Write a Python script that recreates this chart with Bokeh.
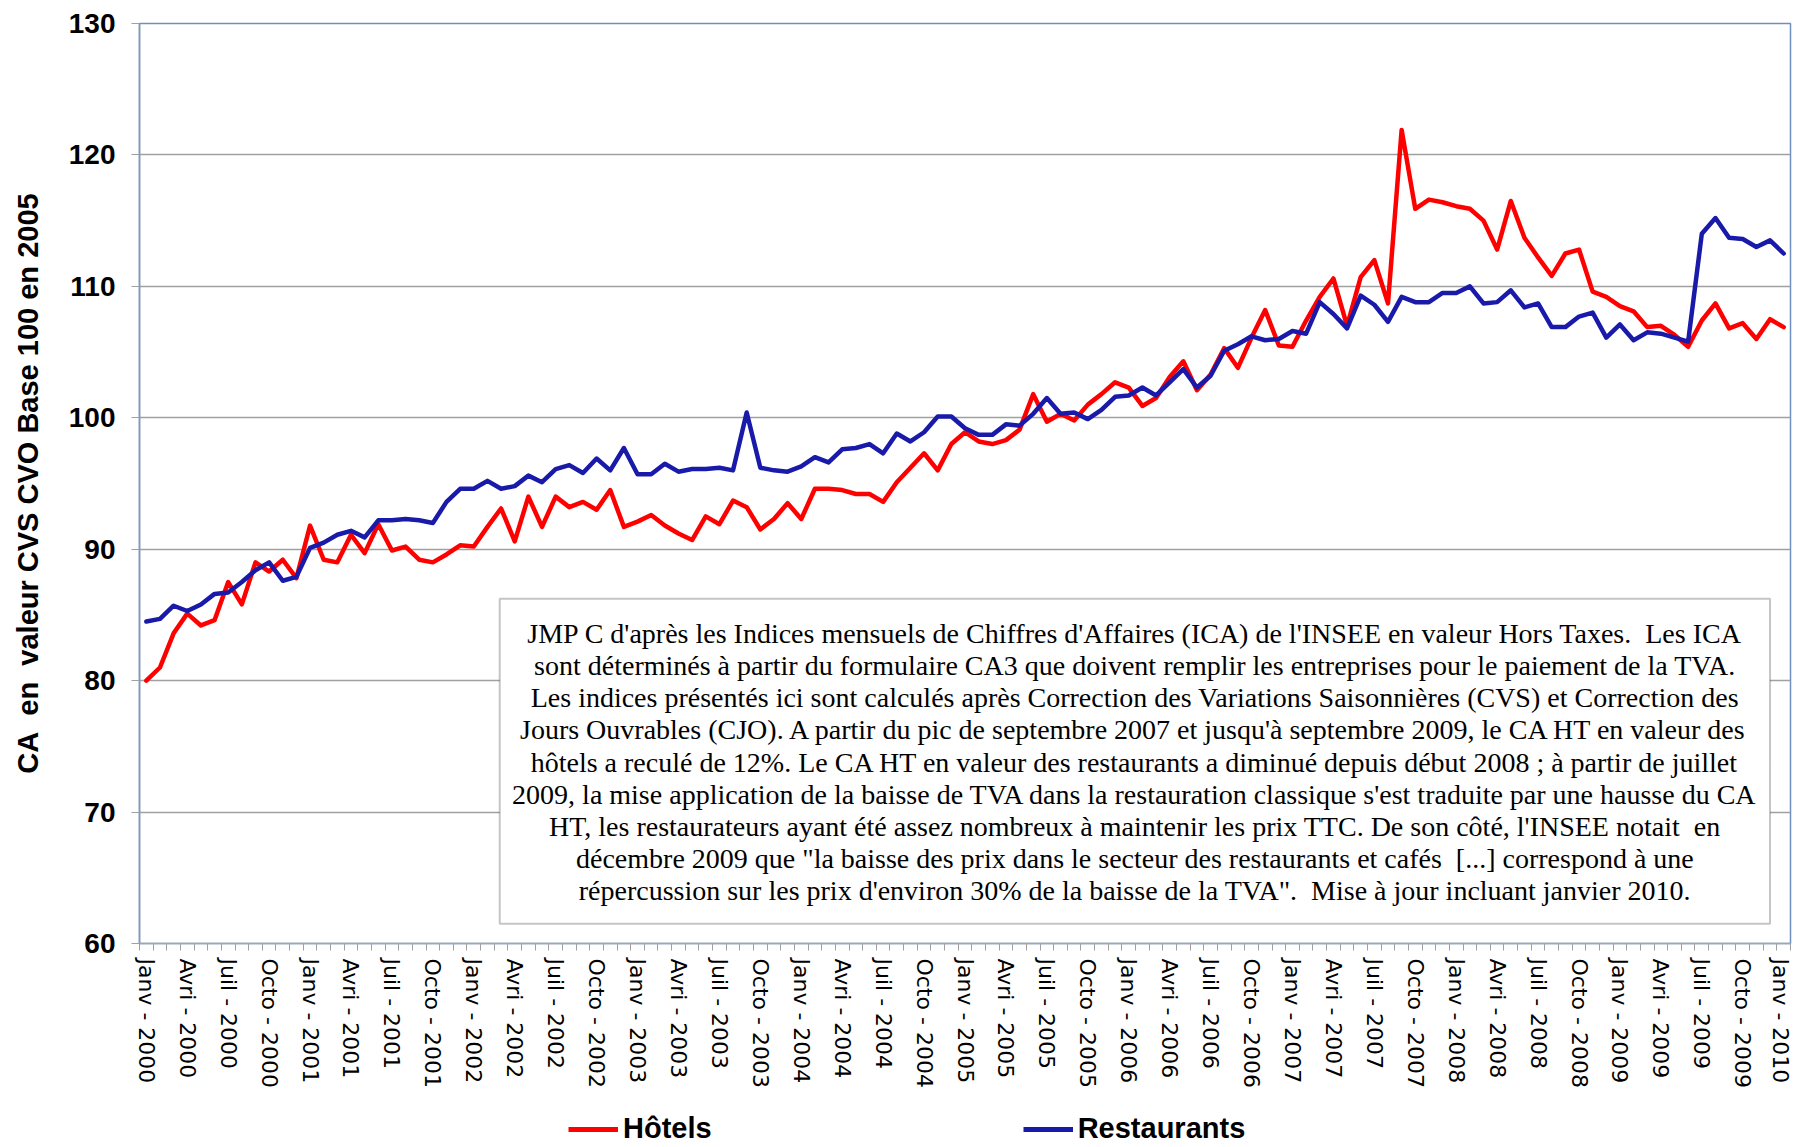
from bokeh.plotting import figure
from bokeh.layouts import column
from bokeh.models import FixedTicker, Legend, LegendItem, Label, BoxAnnotation, Range1d
from bokeh.embed import file_html
from bokeh.resources import INLINE

# ---- data (monthly, Janv 2000 .. Janv 2010) ----
months_fr = ["Janv", "Avri", "Juil", "Octo"]
start_year = 2000

hotels = [
    80.0, 81.0, 83.6, 85.1, 84.2, 84.6, 87.5, 85.8, 89.0, 88.3, 89.2, 87.8,
    91.8, 89.2, 89.0, 91.1, 89.7, 91.9, 89.9, 90.2, 89.2, 89.0, 89.6, 90.3,
    90.2, 91.7, 93.1, 90.6, 94.0, 91.7, 94.0, 93.2, 93.6, 93.0, 94.5, 91.7,
    92.1, 92.6, 91.8, 91.2, 90.7, 92.5, 91.9, 93.7, 93.2, 91.5, 92.3, 93.5,
    92.3, 94.6, 94.6, 94.5, 94.2, 94.2, 93.6, 95.1, 96.2, 97.3, 96.0, 98.0,
    98.9, 98.2, 98.0, 98.3, 99.1, 101.8, 99.7, 100.3, 99.8, 101.0, 101.8, 102.7,
    102.3, 100.9, 101.5, 103.1, 104.3, 102.1, 103.3, 105.3, 103.8, 106.1, 108.2, 105.5,
    105.4, 107.4, 109.2, 110.6, 107.0, 110.7, 112.0, 108.7, 121.9, 115.9, 116.6, 116.4,
    116.1, 115.9, 115.0, 112.8, 116.5, 113.7, 112.2, 110.8, 112.5, 112.8, 109.6, 109.2,
    108.5, 108.1, 106.9, 107.0, 106.3, 105.4, 107.4, 108.7, 106.8, 107.2, 106.0, 107.5,
    106.9,
]

restaurants = [
    84.5, 84.7, 85.7, 85.3, 85.8, 86.6, 86.7, 87.5, 88.4, 89.0, 87.6, 87.9,
    90.1, 90.5, 91.1, 91.4, 90.9, 92.2, 92.2, 92.3, 92.2, 92.0, 93.6, 94.6,
    94.6, 95.2, 94.6, 94.8, 95.6, 95.1, 96.1, 96.4, 95.8, 96.9, 96.0, 97.7,
    95.7, 95.7, 96.5, 95.9, 96.1, 96.1, 96.2, 96.0, 100.4, 96.2, 96.0, 95.9,
    96.3, 97.0, 96.6, 97.6, 97.7, 98.0, 97.3, 98.8, 98.2, 98.9, 100.1, 100.1,
    99.2, 98.7, 98.7, 99.5, 99.4, 100.3, 101.5, 100.3, 100.4, 99.9, 100.6, 101.6,
    101.7, 102.3, 101.7, 102.7, 103.7, 102.3, 103.2, 105.1, 105.6, 106.2, 105.9, 106.0,
    106.6, 106.4, 108.8, 107.9, 106.8, 109.3, 108.6, 107.3, 109.2, 108.8, 108.8, 109.5,
    109.5, 110.0, 108.7, 108.8, 109.7, 108.4, 108.7, 106.9, 106.9, 107.7, 108.0, 106.1,
    107.1, 105.9, 106.5, 106.4, 106.1, 105.8, 114.0, 115.2, 113.7, 113.6, 113.0, 113.5,
    112.5,
]

NB = "\u00a0"
note_lines = [
    f"JMP C d'après les Indices mensuels de Chiffres d'Affaires (ICA) de l'INSEE en valeur Hors Taxes.{NB} Les ICA",
    "sont déterminés à partir du formulaire CA3 que doivent remplir les entreprises pour le paiement de la TVA.",
    "Les indices présentés ici sont calculés après Correction des Variations Saisonnières (CVS) et Correction des",
    "Jours Ouvrables (CJO). A partir du pic de septembre 2007 et jusqu'à septembre 2009, le CA HT en valeur des",
    "hôtels a reculé de 12%. Le CA HT en valeur des restaurants a diminué depuis début 2008 ; à partir de juillet",
    "2009, la mise application de la baisse de TVA dans la restauration classique s'est traduite par une hausse du CA",
    f"HT, les restaurateurs ayant été assez nombreux à maintenir les prix TTC. De son côté, l'INSEE notait{NB} en",
    f"décembre 2009 que \"la baisse des prix dans le secteur des restaurants et cafés{NB} [...] correspond à une",
    f"répercussion sur les prix d'environ 30% de la baisse de la TVA\".{NB} Mise à jour incluant janvier 2010.",
]
y_title = f"CA{NB}{NB}en{NB}{NB}valeur CVS CVO Base 100 en 2005"

series_names = ["Hôtels", "Restaurants"]
series_colors = ["#FF0000", "#1A1AAA"]

n = len(hotels)
x = list(range(n))
tick_pos = list(range(0, n, 3))
tick_labels = {i: f"{months_fr[(i // 3) % 4]} - {start_year + i // 12}" for i in tick_pos}

W = 1792
p = figure(width=W, height=1097, output_backend="svg", toolbar_location=None,
           x_range=Range1d(-0.5, n - 0.5), y_range=Range1d(60, 130),
           min_border_left=139, min_border_right=2, min_border_top=23, min_border_bottom=154)

p.outline_line_color = "#6F8FC0"
p.outline_line_width = 1.5
p.background_fill_color = "white"
p.border_fill_color = "white"

# grid
p.xgrid.grid_line_color = None
p.ygrid.grid_line_color = "#A0A0A0"
p.ygrid.grid_line_width = 1.5
p.ygrid.ticker = FixedTicker(ticks=list(range(60, 131, 10)))

# y axis
p.yaxis.ticker = FixedTicker(ticks=list(range(60, 131, 10)))
p.yaxis.minor_tick_line_color = None
p.yaxis.axis_line_color = "#8496B0"
p.yaxis.axis_line_width = 1.5
p.yaxis.major_tick_line_color = "#A0A0A0"
p.yaxis.major_tick_out = 8
p.yaxis.major_tick_in = 0
p.yaxis.major_label_standoff = 16
p.yaxis.major_label_text_font = "Liberation Sans"
p.yaxis.major_label_text_font_style = "bold"
p.yaxis.major_label_text_font_size = "28px"
p.yaxis.major_label_text_color = "black"
p.yaxis.axis_label = y_title
p.yaxis.axis_label_text_font = "Liberation Sans"
p.yaxis.axis_label_text_font_style = "bold"
p.yaxis.axis_label_text_font_size = "29px"
p.yaxis.axis_label_text_color = "black"
p.yaxis.axis_label_standoff = 22

# x axis
p.xaxis.ticker = FixedTicker(ticks=tick_pos, minor_ticks=[i - 0.5 for i in range(n + 1)])
p.xaxis.major_label_overrides = tick_labels
p.xaxis.major_label_orientation = "vertical"
p.xaxis.major_tick_line_color = None
p.xaxis.major_tick_out = 0
p.xaxis.major_tick_in = 0
p.xaxis.minor_tick_line_color = "#A0A0A0"
p.xaxis.minor_tick_out = 7
p.xaxis.minor_tick_in = 0
p.xaxis.axis_line_color = "#A6A6A6"
p.xaxis.axis_line_width = 1.5
p.xaxis.major_label_standoff = 8
p.xaxis.major_label_text_font = "DejaVu Sans"
p.xaxis.major_label_text_font_size = "22px"
p.xaxis.major_label_text_color = "black"

# series
p.line(x, hotels, line_color=series_colors[0], line_width=4.5, line_join="round", line_cap="round")
p.line(x, restaurants, line_color=series_colors[1], line_width=4.5, line_join="round", line_cap="round")

# note box
box = BoxAnnotation(left=25.9, right=119.0, top=86.24, bottom=61.5,
                    fill_color="white", fill_alpha=1.0, line_color="#404040", line_width=2)
p.add_layout(box)
text_top = 83.6
text_step = 2.45
for k, line in enumerate(note_lines):
    p.add_layout(Label(x=72.45, y=text_top - k * text_step, text=line,
                       text_align="center", text_baseline="middle",
                       text_font="Liberation Serif", text_font_size="28px",
                       text_color="black"))

# legend strip below the chart
leg = figure(width=W, height=48, output_backend="svg", toolbar_location=None,
             x_range=Range1d(0, 1), y_range=Range1d(0, 1),
             min_border_left=0, min_border_right=0, min_border_top=0, min_border_bottom=0)
leg.axis.visible = False
leg.grid.visible = False
leg.outline_line_color = None
leg.border_fill_color = "white"
items = []
for name, col in zip(series_names, series_colors):
    r = leg.line([float("nan")], [float("nan")], line_color=col, line_width=5)
    items.append(LegendItem(label=name, renderers=[r]))
legend = Legend(items=items, orientation="horizontal", location=(429, 0),
                label_text_font="Liberation Sans", label_text_font_style="bold",
                label_text_font_size="29px", label_text_color="black",
                glyph_width=50, glyph_height=30, label_standoff=5, spacing=311,
                padding=0, margin=0, border_line_color=None, background_fill_alpha=0)
leg.add_layout(legend, "center")

layout = column(p, leg, spacing=0)
open("out.html", "w").write(file_html(layout, INLINE))
